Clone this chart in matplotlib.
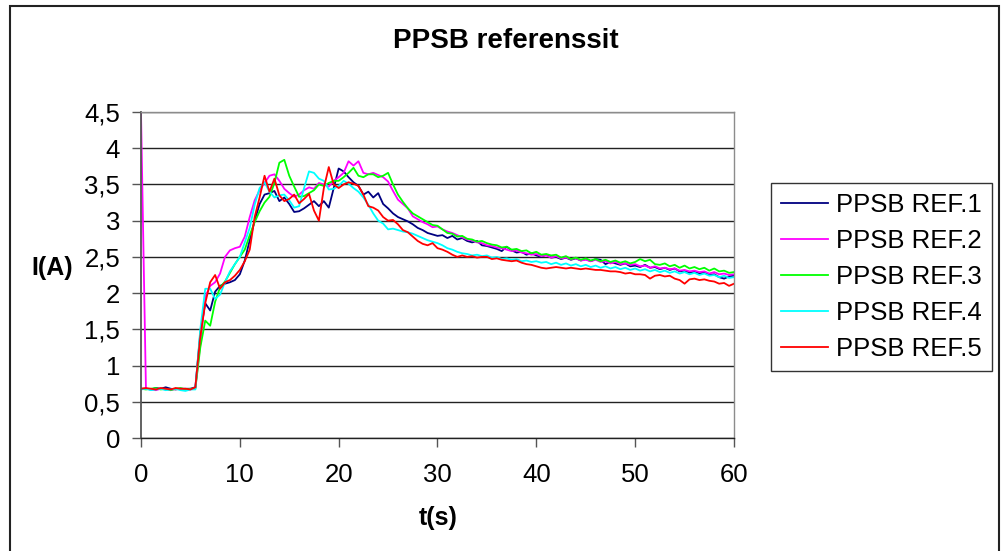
import numpy as np
import matplotlib
matplotlib.use("Agg")
import matplotlib.pyplot as plt
from matplotlib.patches import Rectangle

plt.rcParams['font.family'] = ['Liberation Sans', 'DejaVu Sans']

# Time axis (s), sampled every 0.5 s
t = np.arange(0, 60.5, 0.5)

ref1 = [0.68, 0.68, 0.67, 0.69, 0.68, 0.70, 0.68, 0.67, 0.68, 0.68, 0.68,
        0.70, 1.45, 1.86, 1.76, 2.02, 2.10, 2.13, 2.15, 2.18, 2.26,
        2.45, 2.73, 3.00, 3.23, 3.36, 3.38, 3.41, 3.27, 3.32, 3.23,
        3.12, 3.13, 3.17, 3.22, 3.27, 3.20, 3.27, 3.18, 3.45, 3.72,
        3.68, 3.60, 3.53, 3.48, 3.36, 3.40, 3.32, 3.38, 3.23, 3.17,
        3.10, 3.05, 3.02, 2.99, 2.95, 2.90, 2.87, 2.83, 2.81, 2.79,
        2.80, 2.76, 2.79, 2.74, 2.76, 2.72, 2.70, 2.72, 2.66, 2.65,
        2.63, 2.61, 2.58, 2.64, 2.59, 2.56, 2.57, 2.53, 2.55, 2.52,
        2.50, 2.53, 2.49, 2.50, 2.47, 2.49, 2.46, 2.48, 2.45, 2.47,
        2.44, 2.47, 2.46, 2.40, 2.43, 2.41, 2.39, 2.41, 2.37, 2.38,
        2.36, 2.39, 2.35, 2.36, 2.33, 2.35, 2.32, 2.34, 2.30, 2.31,
        2.28, 2.30, 2.27, 2.29, 2.25, 2.26, 2.22, 2.20, 2.23, 2.24]

ref2 = [4.50, 0.68, 0.67, 0.66, 0.68, 0.67, 0.66, 0.68, 0.67, 0.66, 0.67,
        0.69, 1.30, 1.95, 2.10, 2.15, 2.27, 2.50, 2.59, 2.62, 2.64,
        2.78, 3.05, 3.28, 3.42, 3.52, 3.62, 3.64, 3.55, 3.44, 3.38,
        3.33, 3.36, 3.42, 3.46, 3.44, 3.52, 3.50, 3.47, 3.55, 3.60,
        3.66, 3.82, 3.76, 3.82, 3.66, 3.64, 3.66, 3.63, 3.60, 3.54,
        3.41, 3.29, 3.23, 3.17, 3.06, 3.02, 2.98, 2.95, 2.91, 2.92,
        2.88, 2.85, 2.83, 2.80, 2.77, 2.74, 2.73, 2.70, 2.69, 2.66,
        2.65, 2.63, 2.62, 2.60, 2.58, 2.59, 2.56, 2.55, 2.53, 2.54,
        2.51, 2.52, 2.49, 2.51, 2.48, 2.49, 2.47, 2.48, 2.45, 2.46,
        2.44, 2.46, 2.43, 2.44, 2.41, 2.43, 2.40, 2.41, 2.39, 2.40,
        2.37, 2.38, 2.35, 2.37, 2.34, 2.35, 2.33, 2.34, 2.31, 2.32,
        2.30, 2.31, 2.29, 2.30, 2.27, 2.29, 2.26, 2.27, 2.25, 2.26]

ref3 = [0.68, 0.67, 0.68, 0.69, 0.67, 0.68, 0.66, 0.68, 0.69, 0.67, 0.68,
        0.68, 1.25, 1.62, 1.55, 1.88, 2.08, 2.16, 2.28, 2.40, 2.50,
        2.60, 2.80, 2.98, 3.13, 3.25, 3.33, 3.52, 3.80, 3.84, 3.62,
        3.47, 3.33, 3.34, 3.38, 3.42, 3.50, 3.48, 3.52, 3.55, 3.55,
        3.60, 3.66, 3.73, 3.62, 3.60, 3.64, 3.64, 3.60, 3.62, 3.66,
        3.50, 3.36, 3.26, 3.17, 3.10, 3.06, 3.02, 2.98, 2.94, 2.93,
        2.88, 2.83, 2.82, 2.78, 2.79, 2.75, 2.74, 2.71, 2.72, 2.69,
        2.67, 2.66, 2.63, 2.64, 2.60, 2.61, 2.58, 2.59, 2.55, 2.57,
        2.53, 2.54, 2.52, 2.53, 2.49, 2.51, 2.47, 2.49, 2.46, 2.48,
        2.45, 2.47, 2.44, 2.46, 2.43, 2.45, 2.42, 2.44, 2.41, 2.43,
        2.47, 2.44, 2.46, 2.40, 2.39, 2.41, 2.37, 2.39, 2.35, 2.38,
        2.34, 2.36, 2.33, 2.35, 2.31, 2.34, 2.30, 2.31, 2.28, 2.29]

ref4 = [0.67, 0.68, 0.66, 0.67, 0.68, 0.66, 0.67, 0.68, 0.66, 0.65, 0.67,
        0.67, 1.50, 2.06, 2.06, 1.92, 1.98, 2.15, 2.30, 2.40, 2.50,
        2.70, 2.90, 3.22, 3.45, 3.53, 3.40, 3.32, 3.35, 3.36, 3.28,
        3.18, 3.20, 3.45, 3.68, 3.66, 3.58, 3.55, 3.43, 3.44, 3.48,
        3.55, 3.51, 3.45, 3.40, 3.32, 3.22, 3.10, 3.00, 2.96, 2.88,
        2.89, 2.87, 2.85, 2.84, 2.82, 2.79, 2.76, 2.73, 2.71, 2.69,
        2.66, 2.62, 2.60, 2.57, 2.55, 2.54, 2.52, 2.53, 2.51, 2.52,
        2.49, 2.50, 2.47, 2.48, 2.46, 2.47, 2.44, 2.45, 2.43, 2.44,
        2.42, 2.43, 2.40, 2.42, 2.39, 2.41, 2.38, 2.40, 2.37, 2.39,
        2.36, 2.38, 2.35, 2.37, 2.34, 2.36, 2.33, 2.35, 2.32, 2.34,
        2.31, 2.33, 2.30, 2.32, 2.29, 2.31, 2.28, 2.30, 2.27, 2.29,
        2.26, 2.28, 2.25, 2.27, 2.24, 2.25, 2.22, 2.24, 2.21, 2.22]

ref5 = [0.68, 0.69, 0.68, 0.67, 0.69, 0.68, 0.67, 0.69, 0.68, 0.68, 0.67,
        0.70, 1.40, 1.86, 2.15, 2.25, 2.06, 2.15, 2.18, 2.24, 2.32,
        2.44, 2.60, 3.05, 3.32, 3.62, 3.40, 3.58, 3.35, 3.27, 3.30,
        3.36, 3.24, 3.30, 3.37, 3.14, 3.00, 3.45, 3.74, 3.50, 3.45,
        3.50, 3.53, 3.51, 3.48, 3.36, 3.20, 3.18, 3.14, 3.05, 3.00,
        3.01, 2.95, 2.87, 2.84, 2.78, 2.72, 2.68, 2.66, 2.69, 2.62,
        2.60, 2.57, 2.53, 2.50, 2.52, 2.50, 2.51, 2.49, 2.50, 2.50,
        2.47, 2.48, 2.46, 2.45, 2.44, 2.45, 2.42, 2.40, 2.39, 2.37,
        2.35, 2.34, 2.35, 2.36, 2.35, 2.34, 2.35, 2.34, 2.33, 2.34,
        2.33, 2.32, 2.32, 2.31, 2.30, 2.30, 2.29, 2.27, 2.28, 2.26,
        2.26, 2.25, 2.20, 2.24, 2.25, 2.23, 2.24, 2.20, 2.18, 2.13,
        2.19, 2.20, 2.18, 2.19, 2.17, 2.16, 2.13, 2.14, 2.10, 2.13]

series = [ref1, ref2, ref3, ref4, ref5]
labels = ['PPSB REF.1', 'PPSB REF.2', 'PPSB REF.3', 'PPSB REF.4', 'PPSB REF.5']
colors = ['#000080', '#FF00FF', '#00FF00', '#00FFFF', '#FF0000']

y_ticks = [0, 0.5, 1, 1.5, 2, 2.5, 3, 3.5, 4, 4.5]
y_ticklabels = ['0', '0,5', '1', '1,5', '2', '2,5', '3', '3,5', '4', '4,5']
x_ticks = [0, 10, 20, 30, 40, 50, 60]

W, H = 1004, 551
fig = plt.figure(figsize=(W / 100, H / 100), dpi=100)
ax = fig.add_axes([141 / W, 1 - 438 / H, (734 - 141) / W, (438 - 112) / H])

for vals, lab, col in zip(series, labels, colors):
    ax.plot(t, vals, color=col, lw=1.3, label=lab)

ax.set_xlim(0, 60)
ax.set_ylim(0, 4.5)
ax.set_xticks(x_ticks)
ax.set_yticks(y_ticks)
ax.set_yticklabels(y_ticklabels)
ax.tick_params(axis='both', direction='out', length=6.5, width=1.0,
               color='#555555', labelsize=18.5)
ax.tick_params(axis='y', pad=8.5)
ax.tick_params(axis='x', pad=11.5)

ax.grid(axis='y', color='#222222', lw=1.0)
ax.set_axisbelow(True)
for side in ['top', 'right']:
    ax.spines[side].set_color('#8c8c8c')
    ax.spines[side].set_linewidth(1.0)
ax.spines['left'].set_color('#555555')
ax.spines['left'].set_linewidth(1.3)
ax.spines['bottom'].set_color('#222222')
ax.spines['bottom'].set_linewidth(1.0)

fig.text(506 / W, 1 - 41 / H, 'PPSB referenssit', ha='center', va='center',
         fontsize=20, fontweight='bold')
fig.text(438 / W, 1 - 518 / H, 't(s)', ha='center', va='center',
         fontsize=18, fontweight='bold')
fig.text(52 / W, 1 - 268 / H, 'I(A)', ha='center', va='center',
         fontsize=18, fontweight='bold')

leg = ax.legend(loc='upper left', bbox_to_anchor=(771 / W, 1 - 183 / H),
                bbox_transform=fig.transFigure, fontsize=18.5, frameon=True,
                fancybox=False, edgecolor='black', handlelength=1.85,
                handletextpad=0.3, labelspacing=0.47, borderpad=0.38,
                borderaxespad=0)
leg.get_frame().set_linewidth(1.0)

# Outer chart border
fig.patches.append(Rectangle((10 / W, -0.05), (999 - 10) / W, 1.05 - 6 / H,
                             transform=fig.transFigure, fill=False,
                             edgecolor='#222222', lw=1.5))

fig.savefig('out.png', dpi=100)
